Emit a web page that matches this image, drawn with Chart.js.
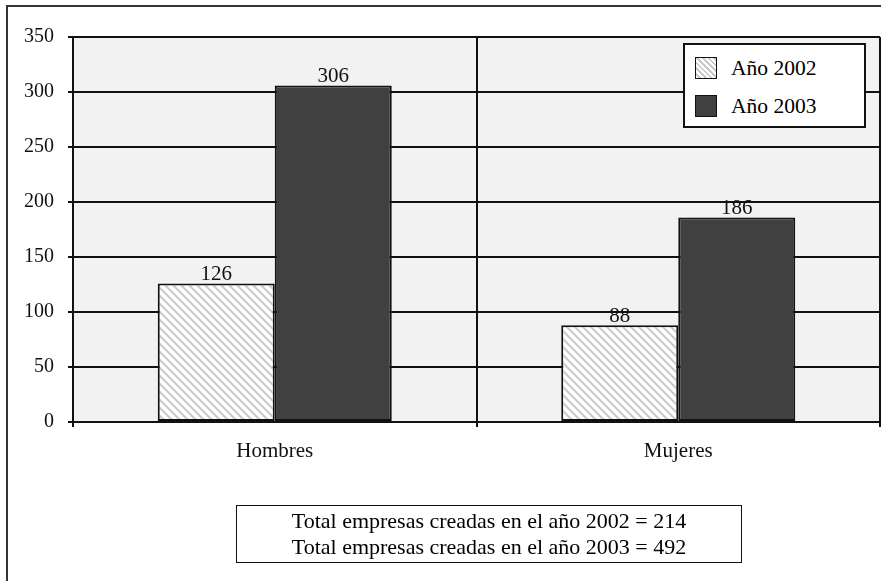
<!DOCTYPE html>
<html>
<head>
<meta charset="utf-8">
<script src="https://cdn.jsdelivr.net/npm/chart.js@4.4.1/dist/chart.umd.min.js"></script>
<style>
  body { margin: 0; background: #fff; overflow: hidden; }
  #wrap { position: relative; width: 881px; height: 581px; }
  #frame { position: absolute; left: 6px; top: 5px; width: 900px; height: 600px;
           border-left: 2px solid #333; border-top: 2px solid #333; }
  #legend { position: absolute; left: 683px; top: 43px; width: 179px; height: 81px;
            background: #fff; border: 2px solid #111; font-family: "Liberation Serif", "DejaVu Serif", serif; font-size: 21.5px; }
  .item { position: absolute; left: 10px; height: 23px; line-height: 23px; }
  .sw { position: absolute; left: 0; top: 0; width: 20px; height: 20px; border: 1.5px solid #111; }
  .item span { position: absolute; left: 36px; top: 0; white-space: nowrap; }
  #totals { position: absolute; left: 236px; top: 505px; width: 506px; height: 58px;
            border: 1.5px solid #111; font-family: "Liberation Serif", "DejaVu Serif", serif; font-size: 22px;
            text-align: center; line-height: 26px; padding-top: 2px; box-sizing: border-box; }
</style>
</head>
<body>
<div id="wrap">
  <div id="frame"></div>
  <canvas id="empresas" width="881" height="581"></canvas>
  <div id="legend"></div>
  <div id="totals"></div>
</div>
<script>
const categories = ['Hombres', 'Mujeres'];
const seriesNames = ['Año 2002', 'Año 2003'];
const y2002 = [126, 88];
const y2003 = [306, 186];
const yMax = 350;
const yStep = 50;
const totalLines = [
  'Total empresas creadas en el año 2002 = 214',
  'Total empresas creadas en el año 2003 = 492'
];

const serif = '"Liberation Serif", "DejaVu Serif", serif';

// hatch fill for 2002
function makeHatch(){
  const c = document.createElement('canvas');
  c.width = 8; c.height = 8;
  const g = c.getContext('2d');
  g.fillStyle = '#ffffff';
  g.fillRect(0, 0, 8, 8);
  g.strokeStyle = '#cacaca';
  g.lineWidth = 2;
  g.beginPath();
  g.moveTo(0, 0); g.lineTo(8, 8);
  g.moveTo(-4, 4); g.lineTo(4, 12);
  g.moveTo(4, -4); g.lineTo(12, 4);
  g.stroke();
  return g.createPattern(c, 'repeat');
}

const ctx = document.getElementById('empresas').getContext('2d');
const hatch = makeHatch();

const plotBg = {
  id: 'plotBg',
  beforeDraw(chart){
    const a = chart.chartArea;
    const c = chart.ctx;
    c.save();
    c.fillStyle = '#f2f2f2';
    c.fillRect(a.left, a.top, a.right - a.left, a.bottom - a.top);
    c.restore();
  }
};

const valueLabels = {
  id: 'valueLabels',
  afterDatasetsDraw(chart){
    const c = chart.ctx;
    c.save();
    c.font = '21px ' + serif;
    c.fillStyle = '#111';
    c.textAlign = 'center';
    c.textBaseline = 'alphabetic';
    chart.data.datasets.forEach((ds, i) => {
      chart.getDatasetMeta(i).data.forEach((bar, j) => {
        c.fillText(ds.data[j], bar.x, bar.y - 3);
      });
    });
    c.restore();
  }
};

const chart = new Chart(ctx, {
  type: 'bar',
  data: {
    labels: categories,
    datasets: [{
      label: seriesNames[0],
      data: y2002,
      backgroundColor: hatch,
      borderColor: '#111',
      borderWidth: 2,
      borderSkipped: false
    }, {
      label: seriesNames[1],
      data: y2003,
      backgroundColor: '#404040',
      borderColor: '#111',
      borderWidth: 2,
      borderSkipped: false
    }]
  },
  options: {
    responsive: false,
    animation: false,
    layout: { padding: { left: 0, top: 37, right: 1, bottom: 119 } },
    categoryPercentage: 0.58,
    barPercentage: 1.0,
    plugins: {
      legend: { display: false },
      tooltip: { enabled: false }
    },
    scales: {
      x: {
        offset: true,
        grid: { offset: true, color: '#111', lineWidth: 2, tickLength: 5, drawTicks: true },
        border: { color: '#111', width: 2 },
        ticks: { color: '#111', font: { family: serif, size: 21 }, padding: 12 },
        afterFit(scale){ scale.height = 40; }
      },
      y: {
        min: 0,
        max: yMax,
        grid: { color: '#111', lineWidth: 2, tickLength: 5 },
        border: { color: '#111', width: 2 },
        ticks: { stepSize: yStep, color: '#111', font: { family: serif, size: 20 }, padding: 14 },
        afterFit(scale){ scale.width = 73; }
      }
    }
  },
  plugins: [plotBg, valueLabels]
});

// legend box
const legendEl = document.getElementById('legend');
const swatches = [
  'background: repeating-linear-gradient(45deg, #fff 0 2px, #cacaca 2px 4px);',
  'background: #404040;'
];
seriesNames.forEach((name, i) => {
  const item = document.createElement('div');
  item.className = 'item';
  item.style.top = (12 + i * 38) + 'px';
  item.innerHTML = '<div class="sw" style="' + swatches[i] + '"></div><span>' + name + '</span>';
  legendEl.appendChild(item);
});

// totals box
document.getElementById('totals').innerHTML = totalLines.join('<br>');
</script>
</body>
</html>
